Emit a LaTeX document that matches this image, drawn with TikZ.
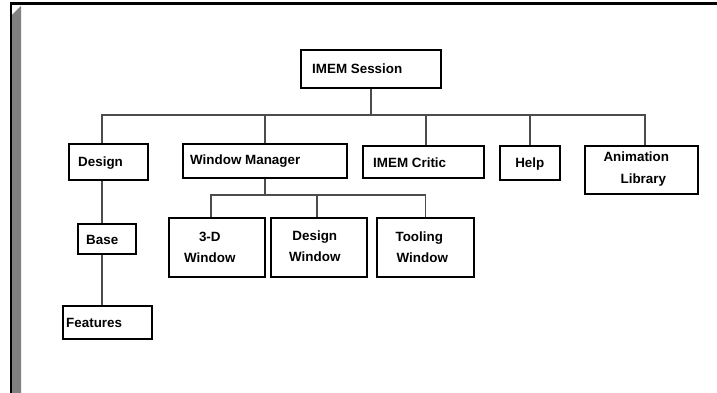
\documentclass[tikz,border=0pt]{standalone}
\usepackage{fontspec}
\setmainfont{Liberation Sans}
\begin{document}
\begin{tikzpicture}[x=1pt,y=-1pt,
  box/.style={draw=black, line width=1.6pt, fill=white, inner sep=0pt, anchor=north west},
  txt/.style={inner sep=0pt, font=\fontsize{13.4}{21.5}\selectfont\bfseries, align=center},
  conn/.style={draw=black!70, line width=1.5pt}]
\useasboundingbox (0,0) rectangle (717,393);
\fill[white] (0,0) rectangle (717,393);
% frame
\fill[black] (10,2.5) rectangle (717,4.7);
\fill[black] (10,2.5) rectangle (12,393);
\fill[black!50] (12,15) -- (21,6) -- (21,393) -- (12,393) -- cycle;

\coordinate (bus1) at (0,115);
\coordinate (bus2) at (0,195);
\coordinate (dcol) at (102,0);

% boxes
\node[box, minimum width=140pt, minimum height=38pt] (session) at (300,49) {};
\node[box, minimum width=79pt, minimum height=36pt] (design) at (68,143) {};
\node[box, minimum width=164pt, minimum height=34pt] (wm) at (182,143) {};
\node[box, minimum width=121pt, minimum height=32pt] (critic) at (362,145) {};
\node[box, minimum width=60pt, minimum height=34pt] (help) at (499,145) {};
\node[box, minimum width=113pt, minimum height=48pt] (anim) at (584,145) {};
\node[box, minimum width=58pt, minimum height=30pt] (base) at (77,223) {};
\node[box, minimum width=89pt, minimum height=33pt] (features) at (62,305) {};
\node[box, minimum width=96pt, minimum height=59pt] (win3d) at (168,217) {};
\node[box, minimum width=96pt, minimum height=59pt] (dwin) at (270,217) {};
\node[box, minimum width=97pt, minimum height=59pt] (twin) at (376,217) {};

% connectors
\draw[conn] (session.south) -- (session.south |- bus1);
\draw[conn] (design.north -| dcol) -- (dcol |- bus1) -- ([xshift=3.5pt]anim.north |- bus1) -- ([xshift=3.5pt]anim.north);
\draw[conn] (wm.north) -- (wm.north |- bus1);
\draw[conn] ([xshift=2.5pt]critic.north) -- ([xshift=2.5pt]critic.north |- bus1);
\draw[conn] (help.north) -- (help.north |- bus1);
\draw[conn] (wm.south) -- (wm.south |- bus2);
\draw[conn] ([xshift=-6pt]win3d.north) -- ([xshift=-6pt]win3d.north |- bus2) -- (twin.north |- bus2) -- (twin.north);
\draw[conn] ([xshift=-2pt]dwin.north) -- ([xshift=-2pt]dwin.north |- bus2);
\draw[conn] (design.south -| dcol) -- (base.north -| dcol);
\draw[conn] (base.south -| dcol) -- (features.north -| dcol);

% texts
\node[txt, anchor=west] (sessionT) at ([xshift=12pt]session.west) {IMEM Session};
\node[txt, anchor=west] (designT) at ([xshift=10pt,yshift=-1pt]design.west) {Design};
\node[txt, anchor=west] (wmT) at ([xshift=8pt]wm.west) {Window Manager};
\node[txt, anchor=west] (criticT) at ([xshift=11pt,yshift=-1pt]critic.west) {IMEM Critic};
\node[txt] (helpT) at ([yshift=-1pt]help.center) {Help};
\node[txt] (animT) at ([xshift=-5pt,yshift=1pt]anim.center) {Animation\\\hspace*{14pt}Library};
\node[txt, anchor=west] (baseT) at ([xshift=9pt,yshift=-1pt]base.west) {Base};
\node[txt, anchor=west] (featuresT) at ([xshift=4pt,yshift=-1pt]features.west) {Features};
\node[txt] (win3dT) at ([xshift=-7pt]win3d.center) {3-D\\Window};
\node[txt] (dwinT) at ([xshift=-4pt,yshift=1pt]dwin.center) {Design\\Window};
\node[txt] (twinT) at ([xshift=-6pt]twin.center) {Tooling\\\hspace*{6pt}Window};
\end{tikzpicture}
\end{document}
